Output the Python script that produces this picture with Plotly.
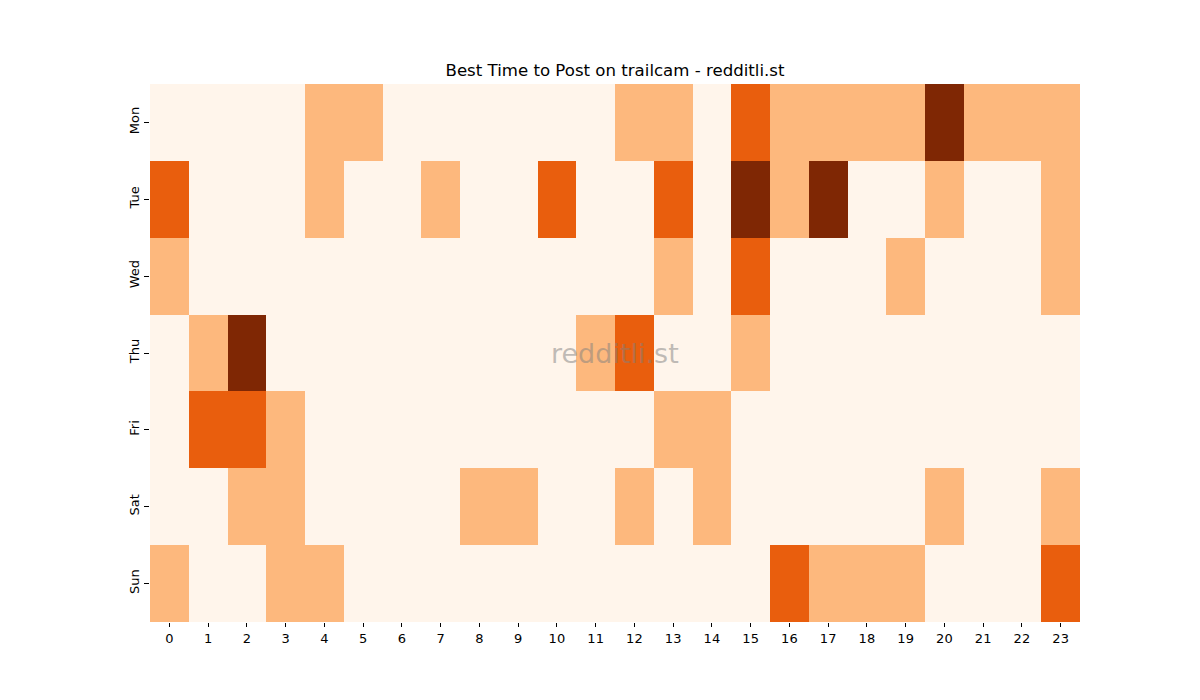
import plotly.graph_objects as go

days = ["Mon", "Tue", "Wed", "Thu", "Fri", "Sat", "Sun"]
hours = list(range(24))

# post activity level per day / hour (0 = low, 3 = best)
mon = [0, 0, 0, 0, 1, 1, 0, 0, 0, 0, 0, 0, 1, 1, 0, 2, 1, 1, 1, 1, 3, 1, 1, 1]
tue = [2, 0, 0, 0, 1, 0, 0, 1, 0, 0, 2, 0, 0, 2, 0, 3, 1, 3, 0, 0, 1, 0, 0, 1]
wed = [1, 0, 0, 0, 0, 0, 0, 0, 0, 0, 0, 0, 0, 1, 0, 2, 0, 0, 0, 1, 0, 0, 0, 1]
thu = [0, 1, 3, 0, 0, 0, 0, 0, 0, 0, 0, 1, 2, 0, 0, 1, 0, 0, 0, 0, 0, 0, 0, 0]
fri = [0, 2, 2, 1, 0, 0, 0, 0, 0, 0, 0, 0, 0, 1, 1, 0, 0, 0, 0, 0, 0, 0, 0, 0]
sat = [0, 0, 1, 1, 0, 0, 0, 0, 1, 1, 0, 0, 1, 0, 1, 0, 0, 0, 0, 0, 1, 0, 0, 1]
sun = [1, 0, 0, 1, 1, 0, 0, 0, 0, 0, 0, 0, 0, 0, 0, 0, 2, 1, 1, 1, 0, 0, 0, 2]

z = [mon, tue, wed, thu, fri, sat, sun]

colors = [[0.0, "#fff5eb"], [0.25, "#fff5eb"],
          [0.25, "#fdb87d"], [0.5, "#fdb87d"],
          [0.5, "#e95e0d"], [0.75, "#e95e0d"],
          [0.75, "#7f2704"], [1.0, "#7f2704"]]

fig = go.Figure(go.Heatmap(
    z=z, x=hours, y=days,
    colorscale=colors, zmin=-0.5, zmax=3.5,
    showscale=False, xgap=0, ygap=0,
))

fig.add_annotation(
    text="redditli.st", x=0.5, y=0.5, xref="paper", yref="paper",
    showarrow=False, font=dict(size=27, color="rgba(128,128,128,0.5)", family="DejaVu Sans"),
)

# page body adds an 8px offset, so margins are shifted to compensate
fig.update_layout(
    width=1200, height=700,
    margin=dict(l=142, r=128, t=76, b=86),
    paper_bgcolor="white", plot_bgcolor="white",
    font=dict(family="DejaVu Sans", size=13, color="black"),
    title=dict(text="Best Time to Post on trailcam - redditli.st", x=(615 - 8) / 1200, xanchor="center",
               y=1 - 68 / 700, yanchor="bottom", font=dict(size=16.6)),
)
fig.update_xaxes(tickmode="array", tickvals=hours, ticks="outside", ticklen=4,
                 tickcolor="black", showgrid=False, zeroline=False, showline=False)
fig.update_yaxes(autorange="reversed", tickmode="array", tickvals=days, tickangle=-90,
                 ticks="outside", ticklen=5, tickcolor="black", showgrid=False,
                 zeroline=False, showline=False)

fig.write_html("out.html")
